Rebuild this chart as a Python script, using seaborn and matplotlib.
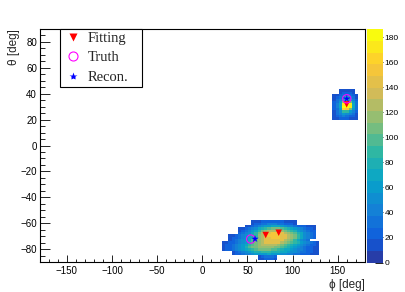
import numpy as np
import pandas as pd
import matplotlib
matplotlib.use("Agg")
import matplotlib.pyplot as plt
from matplotlib.colors import LinearSegmentedColormap, ListedColormap
from matplotlib.lines import Line2D
from matplotlib.ticker import MultipleLocator
import seaborn as sns

# histogram binning (100 x 100 over the full sphere)
PHI_BIN, THETA_BIN = 3.6, 1.8

# colour levels: '.' = empty, '1'..'9' = 10..90, 'a'..'i' = 100..180
LEVELS = {c: 10 * (i + 1) for i, c in enumerate("123456789abcdefghi")}

# lower cluster: first column at phi = 21.6, first row at theta = -57.6 (going down)
low_phi0, low_theta0 = 21.6, -57.6
low_map = [
    ".........11122222221111.......",
    ".........12233444332221.......",
    ".......1123456677765443222111.",
    ".....112345789abbba9876543221.",
    ".....1234679bcddddcba98654322.",
    ".....234579bdeeffeedcba875432.",
    "..112345789cdeffffeedcb975432.",
    "..122346789cdeefffeedcb975432.",
    "..1234567abcdeeeeeedcb97543...",
    "112234568abcdeeeeedcba98654321",
    "122345679abcdddddcba9876543221",
    "12234568abbcccccbba98765432211",
    "1223456789abbbbaa9877654432211",
    "...123456788999888776554332211",
    "...122344566667666554433222111",
    "...........123332.............",
    "...........112221.............",
]

# upper cluster: first column at phi = 144, first row at theta = 43.2 (going down)
up_phi0, up_theta0 = 144.0, 43.2
up_map = [
    "..11111.",
    "..12221.",
    "11234321",
    "12358531",
    "1347a742",
    "236cgb63",
    "247hih73",
    "247iih73",
    "236gfb63",
    "13599642",
    "13465431",
    "12343221",
    "11222111",
]

fit_phi = [70.2, 84.6, 159.9]
fit_theta = [-69.0, -67.2, 31.7]
truth_phi = [53.6, 160.0]
truth_theta = [-72.1, 36.0]
reco_phi = [58.4, 160.0]
reco_theta = [-72.0, 36.0]

legend_labels = ["Fitting", "Truth", "Recon."]
cbar_ticks = [0, 20, 40, 60, 80, 100, 120, 140, 160, 180]
z_max = 186.4

# turn the maps into weighted cell entries
rows = []
for cells, phi0, theta0 in [(low_map, low_phi0, low_theta0), (up_map, up_phi0, up_theta0)]:
    for r, line in enumerate(cells):
        for c, ch in enumerate(line):
            if ch in LEVELS:
                rows.append((phi0 + (c + 0.5) * PHI_BIN, theta0 - (r + 0.5) * THETA_BIN, LEVELS[ch]))
df = pd.DataFrame(rows, columns=["phi", "theta", "w"])

# ROOT kBird palette, 20 contour bands
bird = LinearSegmentedColormap.from_list("bird", list(zip(
    np.linspace(0, 1, 9),
    zip([0.2082, 0.0592, 0.0780, 0.0232, 0.1802, 0.5301, 0.8186, 0.9956, 0.9764],
        [0.1664, 0.3599, 0.5041, 0.6419, 0.7178, 0.7492, 0.7328, 0.7862, 0.9832],
        [0.5293, 0.8684, 0.8385, 0.7914, 0.6425, 0.4662, 0.3499, 0.1968, 0.0539]))))
cmap = ListedColormap([bird((i + 1) / 20) for i in range(20)])

sns.set_style("ticks")
plt.rcParams["font.family"] = ["Liberation Sans", "DejaVu Sans"]
plt.rcParams["axes.edgecolor"] = "black"
plt.rcParams["xtick.color"] = "black"
plt.rcParams["ytick.color"] = "black"

fig = plt.figure(figsize=(4.05, 2.92), dpi=100)
ax = fig.add_axes([0.0983, 0.1017, 0.8025, 0.8])
cax = fig.add_axes([0.9054, 0.101, 0.041, 0.7986])

sns.histplot(data=df, x="phi", y="theta", weights="w", bins=(100, 100),
             binrange=((-180, 180), (-90, 90)), cmap=cmap, vmin=0, vmax=z_max,
             cbar=True, cbar_ax=cax, ax=ax)

sns.scatterplot(x=fit_phi, y=fit_theta, marker="v", color="red", s=22,
                edgecolor="none", ax=ax, legend=False, zorder=3)
sns.scatterplot(x=truth_phi, y=truth_theta, marker="o", facecolor="none",
                edgecolor="#ff00ff", linewidth=0.8, s=36, ax=ax, legend=False, zorder=4)
sns.scatterplot(x=reco_phi, y=reco_theta, marker="*", color="blue", s=30,
                edgecolor="none", ax=ax, legend=False, zorder=5)

ax.set_xlim(-180, 180)
ax.set_ylim(-90, 90)
ax.set_xticks([-150, -100, -50, 0, 50, 100, 150])
ax.set_yticks([-80, -60, -40, -20, 0, 20, 40, 60, 80])
ax.xaxis.set_minor_locator(MultipleLocator(10))
ax.yaxis.set_minor_locator(MultipleLocator(5))
ax.tick_params(axis="x", which="major", direction="in", length=5, width=0.6, labelsize=7, pad=3)
ax.tick_params(axis="x", which="minor", direction="in", length=2.5, width=0.6)
ax.tick_params(axis="y", which="major", direction="in", length=7, width=0.6, labelsize=7, pad=2)
ax.tick_params(axis="y", which="minor", direction="in", length=3.5, width=0.6)
for sp in ax.spines.values():
    sp.set_visible(True)
    sp.set_linewidth(0.8)
    sp.set_color("black")

ax.set_xlabel("ϕ [deg]", loc="right", fontsize=8.5, labelpad=2)
ax.set_ylabel("θ [deg]", loc="top", fontsize=8.5, labelpad=0)

cbar = ax.collections[0].colorbar
cbar.outline.set_visible(False)
cbar.set_ticks(cbar_ticks)
cax.tick_params(direction="in", length=5.8, width=0.6, labelsize=6, pad=1,
                right=True, left=False, labelright=True, labelleft=False)
cax.minorticks_off()

handles = [
    Line2D([], [], ls="none", marker="v", color="red", mec="none", markersize=5.5),
    Line2D([], [], ls="none", marker="o", mfc="none", mec="#ff00ff", mew=0.8, markersize=6.5),
    Line2D([], [], ls="none", marker="*", color="blue", mec="none", markersize=6),
]
leg = ax.legend(handles, legend_labels, loc="upper left",
                bbox_to_anchor=(0.062, 0.752, 0.252, 0.248), mode="expand",
                prop={"family": "Liberation Serif", "size": 10.5},
                frameon=True, fancybox=False, edgecolor="black", framealpha=1,
                borderpad=0.23, labelspacing=0.41, handlelength=1.31,
                handletextpad=0.38, borderaxespad=0)
leg.get_frame().set_linewidth(0.8)

fig.savefig("out.png", dpi=100)
